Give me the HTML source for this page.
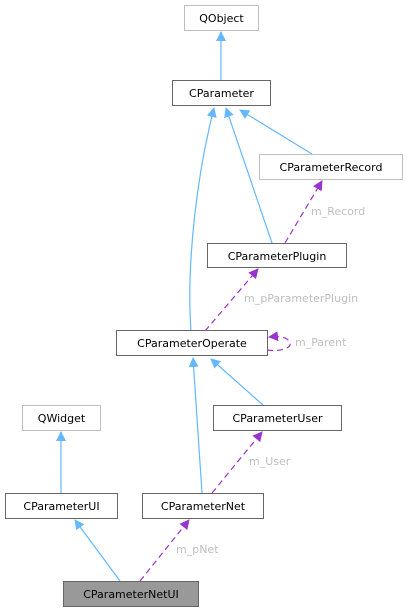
<!DOCTYPE html>
<html><head><style>body{margin:0;background:#fff}svg{display:block}text{font-family:"DejaVu Sans","Liberation Sans",sans-serif;font-size:11px}</style></head><body>
<svg width="407" height="612" viewBox="0 0 407 612" xmlns="http://www.w3.org/2000/svg">
<defs>
<marker id="b" viewBox="0 0 10 10" refX="9" refY="5" markerWidth="10" markerHeight="10" markerUnits="userSpaceOnUse" orient="auto"><path d="M0,0L10,5L0,10z" fill="#63b8ff"/></marker>
<marker id="p" viewBox="0 0 10 10" refX="9" refY="5" markerWidth="10" markerHeight="10" markerUnits="userSpaceOnUse" orient="auto"><path d="M0,0L10,5L0,10z" fill="#9a32cd"/></marker>
</defs>
<g fill="none" stroke="#63b8ff" stroke-width="1.2">
<path d="M221,80V32" marker-end="url(#b)"/>
<path d="M191,331C186,260 198,170 214,108" marker-end="url(#b)"/>
<path d="M272,243L226,108" marker-end="url(#b)"/>
<path d="M312,154L240,110" marker-end="url(#b)"/>
<path d="M202,493L193,358" marker-end="url(#b)"/>
<path d="M263,405L211,359" marker-end="url(#b)"/>
<path d="M61,493V432" marker-end="url(#b)"/>
<path d="M120,581L75,520" marker-end="url(#b)"/>
</g>
<g fill="none" stroke="#9a32cd" stroke-width="1.2" stroke-dasharray="6,4">
<path d="M285,243L322,181" marker-end="url(#p)"/>
<path d="M205,331L258,269" marker-end="url(#p)"/>
<path d="M267,350C280,352 292,348 290,343C288,337 280,336 269,337" marker-end="url(#p)"/>
<path d="M212,493L262,432" marker-end="url(#p)"/>
<path d="M140,581L189,520" marker-end="url(#p)"/>
</g>
<g stroke-width="1">
<rect x="184.5" y="5.5" width="74" height="25" fill="#fff" stroke="#bfbfbf"/>
<rect x="172.5" y="80.5" width="98" height="25" fill="#fff" stroke="#666"/>
<rect x="259.5" y="154.5" width="143" height="25" fill="#fff" stroke="#bfbfbf"/>
<rect x="207.5" y="243.5" width="139" height="24" fill="#fff" stroke="#666"/>
<rect x="116.5" y="330.5" width="151" height="25" fill="#fff" stroke="#666"/>
<rect x="22.5" y="405.5" width="78" height="25" fill="#fff" stroke="#bfbfbf"/>
<rect x="213.5" y="405.5" width="128" height="25" fill="#fff" stroke="#666"/>
<rect x="5.5" y="493.5" width="112" height="25" fill="#fff" stroke="#666"/>
<rect x="142.5" y="493.5" width="121" height="25" fill="#fff" stroke="#666"/>
<rect x="63.5" y="581.5" width="135" height="25" fill="#999" stroke="#666"/>
</g>
<g fill="#000" text-anchor="middle">
<text x="221.5" y="22">QObject</text>
<text x="221.5" y="97">CParameter</text>
<text x="331" y="171">CParameterRecord</text>
<text x="277" y="260">CParameterPlugin</text>
<text x="192" y="347">CParameterOperate</text>
<text x="61.5" y="422">QWidget</text>
<text x="277.5" y="422">CParameterUser</text>
<text x="61.5" y="510">CParameterUI</text>
<text x="203" y="510">CParameterNet</text>
<text x="131" y="598">CParameterNetUI</text>
</g>
<g fill="#bfbfbf">
<text x="311" y="215">m_Record</text>
<text x="244" y="302">m_pParameterPlugin</text>
<text x="295" y="346">m_Parent</text>
<text x="249" y="465">m_User</text>
<text x="176" y="553">m_pNet</text>
</g>
</svg>
</body></html>
